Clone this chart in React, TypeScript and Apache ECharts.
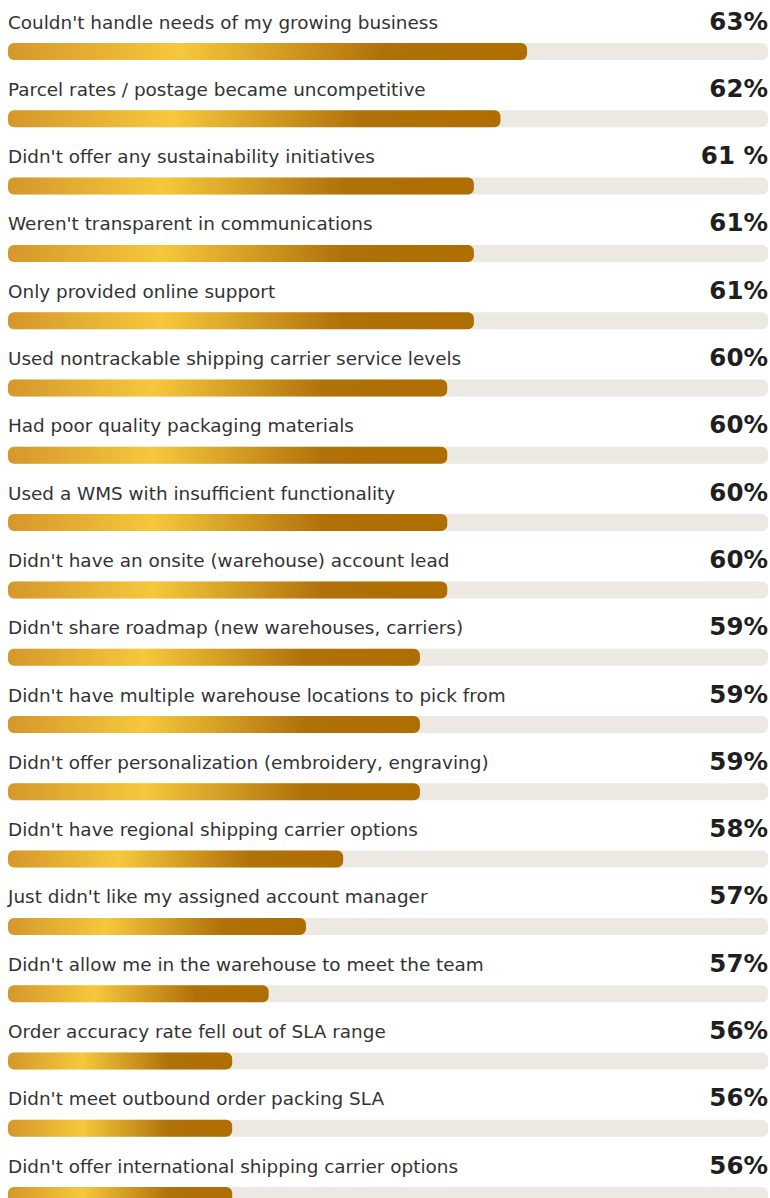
import React, { useEffect, useRef } from "react";
import * as echarts from "echarts";

// Reasons (top to bottom)
const categories: string[] = [
  "Couldn't handle needs of my growing business",
  "Parcel rates / postage became uncompetitive",
  "Didn't offer any sustainability initiatives",
  "Weren't transparent in communications",
  "Only provided online support",
  "Used nontrackable shipping carrier service levels",
  "Had poor quality packaging materials",
  "Used a WMS with insufficient functionality",
  "Didn't have an onsite (warehouse) account lead",
  "Didn't share roadmap (new warehouses, carriers)",
  "Didn't have multiple warehouse locations to pick from",
  "Didn't offer personalization (embroidery, engraving)",
  "Didn't have regional shipping carrier options",
  "Just didn't like my assigned account manager",
  "Didn't allow me in the warehouse to meet the team",
  "Order accuracy rate fell out of SLA range",
  "Didn't meet outbound order packing SLA",
  "Didn't offer international shipping carrier options",
];

// Displayed percentage labels
const pctLabels: string[] = [
  "63%", "62%", "61 %", "61%", "61%", "60%", "60%", "60%", "60%",
  "59%", "59%", "59%", "58%", "57%", "57%", "56%", "56%", "56%",
];

// Filled length of each bar, as % of the full track (as drawn in the picture)
const barFill: number[] = [
  68.3, 64.8, 61.3, 61.3, 61.3, 57.8, 57.8, 57.8, 57.8,
  54.2, 54.2, 54.2, 44.1, 39.2, 34.3, 29.5, 29.5, 29.5,
];

// Track full length
const trackMax: number[] = categories.map(() => 100);

const FONT = "'DejaVu Sans', 'Open Sans', sans-serif";

export default function App() {
  const ref = useRef<HTMLDivElement>(null);
  useEffect(() => {
    if (!ref.current) return;
    const chart = echarts.init(ref.current, undefined, { renderer: "svg" });
    const pitch = 67.3;
    const top = 51.5 - pitch / 2;
    const gold = new echarts.graphic.LinearGradient(0, 0, 1, 0, [
      { offset: 0, color: "#D5972B" },
      { offset: 0.33, color: "#F6C83C" },
      { offset: 0.72, color: "#B0710A" },
      { offset: 1, color: "#AE6E00" },
    ]);
    chart.setOption({
      animation: false,
      backgroundColor: "#ffffff",
      grid: {
        left: 8,
        right: 2,
        top,
        bottom: 1198 - top - pitch * categories.length,
        outerBoundsMode: "none",
        containLabel: false,
      },
      xAxis: { type: "value", min: 0, max: 100, show: false },
      yAxis: {
        type: "category",
        data: categories,
        inverse: true,
        show: false,
      },
      series: [
        {
          type: "bar",
          data: trackMax,
          barWidth: 17,
          barGap: "-100%",
          itemStyle: { color: "#ECE9E2", borderRadius: 6 },
          silent: true,
          label: {
            show: true,
            position: ["100%", -22],
            align: "right",
            verticalAlign: "middle",
            formatter: (p: any) => pctLabels[p.dataIndex],
            fontFamily: FONT,
            fontWeight: "bold",
            fontSize: 24.5,
            color: "#1f1f1f",
          },
          z: 1,
        },
        {
          type: "bar",
          data: barFill,
          barWidth: 17,
          barGap: "-100%",
          itemStyle: { color: gold, borderRadius: 6 },
          silent: true,
          label: {
            show: true,
            position: [0, -21],
            align: "left",
            verticalAlign: "middle",
            formatter: (p: any) => categories[p.dataIndex],
            fontFamily: FONT,
            fontSize: 18.4,
            color: "#333333",
          },
          z: 2,
        },
      ],
    });
    return () => chart.dispose();
  }, []);
  return (
    <div
      ref={ref}
      style={{ position: "absolute", left: 0, top: 0, width: 770, height: 1198 }}
    />
  );
}
